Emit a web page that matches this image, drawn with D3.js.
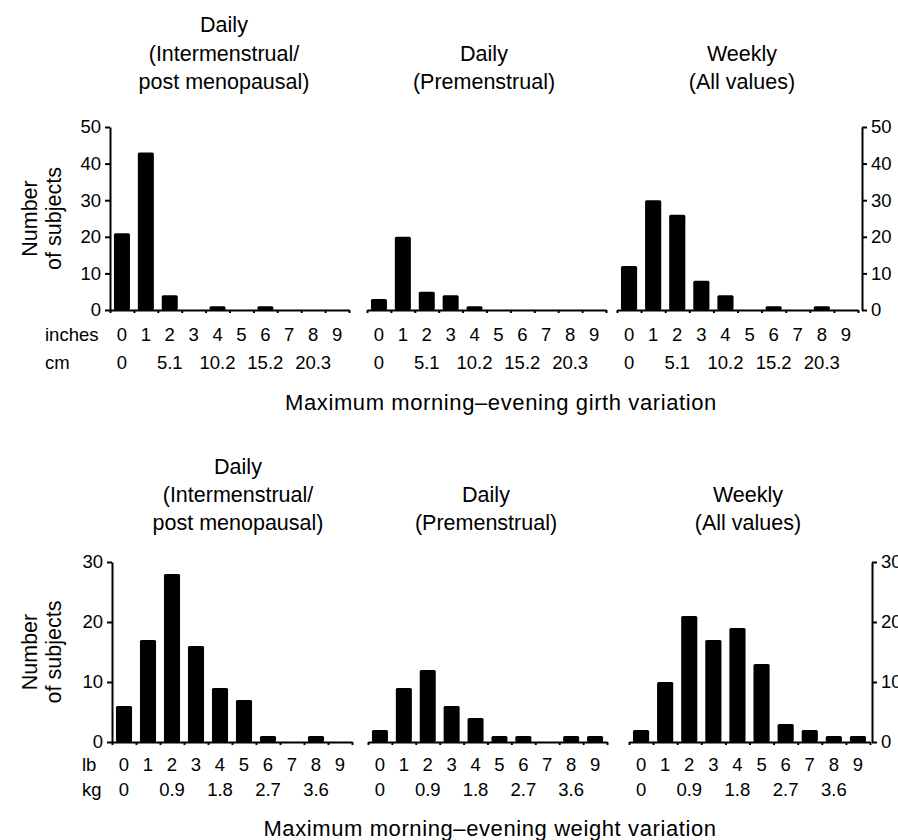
<!DOCTYPE html>
<html>
<head>
<meta charset="utf-8">
<script src="https://cdn.jsdelivr.net/npm/d3@7"></script>
<style>
  body { margin: 0; background: #fff; }
  svg { display: block; font-family: "Liberation Sans", Arial, Helvetica, sans-serif; }
  .axis path, .axis line { stroke: #000; stroke-width: 2; }
</style>
</head>
<body>
<div id="chart"></div>
<script>
// bins 0..9 (inches / lb)
const bins = [0, 1, 2, 3, 4, 5, 6, 7, 8, 9];
const cmLabels = ["0", "", "5.1", "", "10.2", "", "15.2", "", "20.3", ""];
const kgLabels = ["0", "", "0.9", "", "1.8", "", "2.7", "", "3.6", ""];

// girth variation (number of subjects)
const girthIntermenstrual = [21, 43, 4, 0, 1, 0, 1, 0, 0, 0];
const girthPremenstrual   = [3, 20, 5, 4, 1, 0, 0, 0, 0, 0];
const girthWeekly         = [12, 30, 26, 8, 4, 0, 1, 0, 1, 0];

// weight variation (number of subjects)
const weightIntermenstrual = [6, 17, 28, 16, 9, 7, 1, 0, 1, 0];
const weightPremenstrual   = [2, 9, 12, 6, 4, 1, 1, 0, 1, 1];
const weightWeekly         = [2, 10, 21, 17, 19, 13, 3, 2, 1, 1];

const girthTicks = [0, 10, 20, 30, 40, 50];
const weightTicks = [0, 10, 20, 30];

const panelTitles = [
  ["Daily", "(Intermenstrual/", "post menopausal)"],
  ["Daily", "(Premenstrual)"],
  ["Weekly", "(All values)"]
];

const W = 898, H = 840;
const svg = d3.select("#chart").append("svg").attr("width", W).attr("height", H);

const titleSize = 21.5, tickSize = 18.5;

// layout for each row
const rows = [
  {
    series: [girthIntermenstrual, girthPremenstrual, girthWeekly],
    ticks: girthTicks, yMax: 50,
    base: 310, top: 127,
    panels: [[110, 349], [367, 606], [617, 858]],
    rightAxis: 862,
    titleX: [224, 484, 742], titleY: [24, 53, 81],
    unit1: "inches", unit2: "cm", labels2: cmLabels,
    unitX: 45, row1Y: 335, row2Y: 363,
    xTitle: "Maximum morning\u2013evening girth variation", xTitleX: 501, xTitleY: 402
  },
  {
    series: [weightIntermenstrual, weightPremenstrual, weightWeekly],
    ticks: weightTicks, yMax: 30,
    base: 742, top: 562,
    panels: [[112, 352], [368, 607], [629, 870]],
    rightAxis: 872,
    titleX: [238, 486, 748], titleY: [466, 494, 522],
    unit1: "lb", unit2: "kg", labels2: kgLabels,
    unitX: 82, row1Y: 765, row2Y: 790,
    xTitle: "Maximum morning\u2013evening weight variation", xTitleX: 490, xTitleY: 828
  }
];

rows.forEach(row => {
  const y = d3.scaleLinear().domain([0, row.yMax]).range([row.base, row.top]);

  // left y axis
  svg.append("g")
    .attr("class", "axis")
    .attr("transform", `translate(${row.panels[0][0]},0)`)
    .call(d3.axisLeft(y).tickValues(row.ticks).tickSize(5).tickSizeOuter(0).tickPadding(4))
    .call(g => g.selectAll("text").attr("font-size", tickSize).attr("fill", "#000").attr("font-family", null));

  // right y axis (labels run off the edge, as in the original)
  svg.append("g")
    .attr("class", "axis")
    .attr("transform", `translate(${row.rightAxis},0)`)
    .call(d3.axisRight(y).tickValues(row.ticks).tickSize(5).tickSizeOuter(0).tickPadding(4))
    .call(g => g.selectAll("text").attr("font-size", tickSize).attr("fill", "#000").attr("font-family", null));

  // y axis title
  const midY = (row.base + row.top) / 2;
  const yt = svg.append("text")
    .attr("transform", `translate(37,${midY}) rotate(-90)`)
    .attr("text-anchor", "middle")
    .attr("font-size", titleSize);
  yt.append("tspan").attr("x", 0).attr("y", 0).text("Number");
  yt.append("tspan").attr("x", 0).attr("y", 24).text("of subjects");

  row.series.forEach((values, pi) => {
    const [x0, x1] = row.panels[pi];
    const x = d3.scaleBand().domain(bins).range([x0, x1]).paddingInner(0.33).paddingOuter(0.165);
    const edges = d3.scaleLinear().domain([0, bins.length]).range([x0, x1]);

    // bars
    svg.append("g")
      .selectAll("rect")
      .data(values.map((v, i) => ({ bin: bins[i], value: v })).filter(d => d.value > 0))
      .join("rect")
      .attr("x", d => x(d.bin))
      .attr("y", d => y(d.value))
      .attr("width", x.bandwidth())
      .attr("height", d => row.base - y(d.value))
      .attr("rx", 1.5)
      .attr("fill", "#000");

    // x axis with ticks at bin edges
    svg.append("g")
      .attr("class", "axis")
      .attr("transform", `translate(0,${row.base})`)
      .call(d3.axisBottom(edges).tickValues(d3.range(bins.length + 1)).tickFormat("").tickSize(3).tickSizeOuter(0));

    // unit labels
    svg.append("g")
      .selectAll("text")
      .data(bins)
      .join("text")
      .attr("x", d => x(d) + x.bandwidth() / 2)
      .attr("y", row.row1Y)
      .attr("dy", "0.35em")
      .attr("text-anchor", "middle")
      .attr("font-size", tickSize)
      .text(d => d);

    svg.append("g")
      .selectAll("text")
      .data(bins)
      .join("text")
      .attr("x", d => x(d) + x.bandwidth() / 2)
      .attr("y", row.row2Y)
      .attr("dy", "0.35em")
      .attr("text-anchor", "middle")
      .attr("font-size", tickSize)
      .text((d, i) => row.labels2[i]);

    // panel title (bottom aligned)
    const lines = panelTitles[pi];
    const offset = row.titleY.length - lines.length;
    svg.append("g")
      .selectAll("text")
      .data(lines)
      .join("text")
      .attr("x", row.titleX[pi])
      .attr("y", (d, i) => row.titleY[i + offset])
      .attr("dy", "0.35em")
      .attr("text-anchor", "middle")
      .attr("font-size", titleSize)
      .text(d => d);
  });

  // unit row names
  svg.append("text").attr("x", row.unitX).attr("y", row.row1Y).attr("dy", "0.35em")
    .attr("font-size", tickSize).text(row.unit1);
  svg.append("text").attr("x", row.unitX).attr("y", row.row2Y).attr("dy", "0.35em")
    .attr("font-size", tickSize).text(row.unit2);

  // x axis title
  svg.append("text")
    .attr("x", row.xTitleX)
    .attr("y", row.xTitleY)
    .attr("dy", "0.35em")
    .attr("text-anchor", "middle")
    .attr("font-size", 22)
    .attr("letter-spacing", 0.6)
    .text(row.xTitle);
});
</script>
</body>
</html>
